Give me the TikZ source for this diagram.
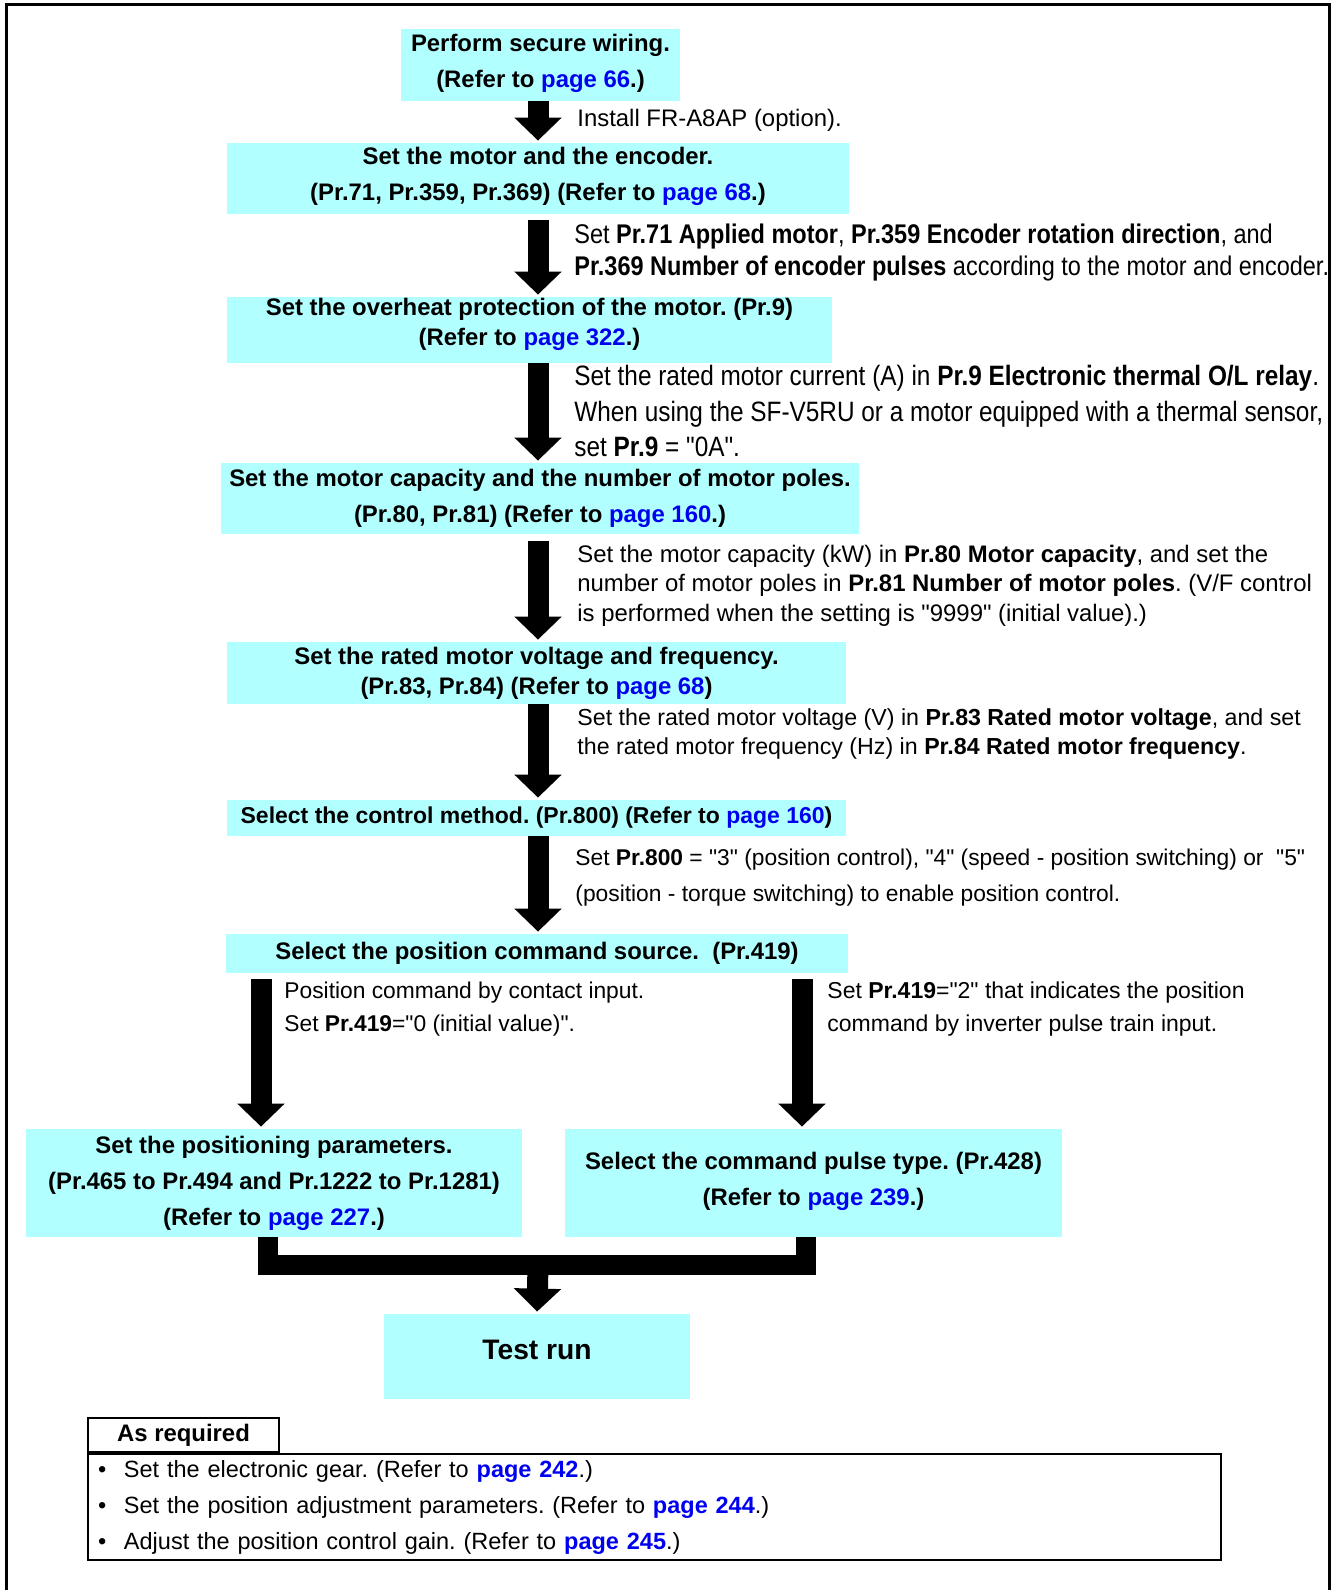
\documentclass[tikz,border=0pt]{standalone}
\usepackage{fontspec}
\setmainfont{Liberation Sans}[Ligatures=TeXOff]
\newfontfamily\narrowsans{Liberation Sans}[Ligatures=TeXOff, FakeStretch=0.87]
\usetikzlibrary{arrows.meta}
\definecolor{boxcyan}{RGB}{178,255,255}
\definecolor{linkblue}{RGB}{0,0,240}
\newcommand{\pg}[1]{\textcolor{linkblue}{#1}}
\newcommand{\lift}[1]{\rule[-#1]{0pt}{#1}}
\tikzset{
  stepbox/.style={fill=boxcyan, inner sep=0pt, align=center, font=\fontsize{11.95}{18}\selectfont\bfseries},
  note/.style={anchor=west, inner sep=0pt, align=left, font=\fontsize{11.95}{#1}\selectfont},
  note/.default=16pt,
  flowarrow/.style={line width=10.5pt, -{Triangle[length=11.5pt, width=23pt]}, shorten >=1pt},
  mergeline/.style={line width=10pt, line join=miter},
}
\begin{document}
\frenchspacing
\begin{tikzpicture}[x=0.5pt, y=-0.5pt]
    \useasboundingbox (0,0) rectangle (1336,1590);
    \draw[line width=1.5pt] (6,1590) -- (6,4) -- (1329,4) -- (1329,1590);
    % steps
    \node[stepbox, minimum width=139.5pt, minimum height=36pt] (b1) at (540.5,65) {Perform secure wiring.\\(Refer to \pg{page 66}.)\lift{4.5pt}};
    \node[stepbox, minimum width=311pt, minimum height=35.5pt] (b2) at (538,178.5) {Set the motor and the encoder.\\(Pr.71, Pr.359, Pr.369) (Refer to \pg{page 68}.)\lift{4.5pt}};
    \node[stepbox, minimum width=302.5pt, minimum height=33pt, font=\fontsize{11.95}{15}\selectfont\bfseries] (b3) at (529.5,330) {Set the overheat protection of the motor. (Pr.9)\\(Refer to \pg{page 322}.)\lift{8.5pt}};
    \node[stepbox, minimum width=319pt, minimum height=35.5pt] (b4) at (540,498.5) {Set the motor capacity and the number of motor poles.\\(Pr.80, Pr.81) (Refer to \pg{page 160}.)};
    \node[stepbox, minimum width=309.5pt, minimum height=31pt, font=\fontsize{11.95}{15}\selectfont\bfseries] (b5) at (536.5,673) {Set the rated motor voltage and frequency.\\(Pr.83, Pr.84) (Refer to \pg{page 68})};
    \node[stepbox, minimum width=309.5pt, minimum height=18pt, font=\fontsize{11.5}{14}\selectfont\bfseries] (b6) at (536.5,818) {Select the control method. (Pr.800) (Refer to \pg{page 160})};
    \node[stepbox, minimum width=311pt, minimum height=19.5pt] (b7) at (537,953.5) {Select the position command source.\ \ (Pr.419)};
    \node[stepbox, minimum width=248pt, minimum height=54pt] (b8) at (274,1183) {Set the positioning parameters.\\(Pr.465 to Pr.494 and Pr.1222 to Pr.1281)\\(Refer to \pg{page 227}.)};
    \node[stepbox, minimum width=248.5pt, minimum height=54pt] (b9) at (813.5,1183) {Select the command pulse type. (Pr.428)\\(Refer to \pg{page 239}.)\lift{4.5pt}};
    \node[stepbox, minimum width=153pt, minimum height=42.5pt, font=\fontsize{14.1}{17}\selectfont\bfseries] (test) at (537,1356.5) {Test run\lift{7pt}};
    % notes beside the arrows
    \node[note] (s1) at (577,120) {Install FR-A8AP (option).};
    \node[note, font=\narrowsans\fontsize{13.5}{16}\selectfont] (s2) at (574,253) {Set \textbf{Pr.71 Applied motor}, \textbf{Pr.359 Encoder rotation direction}, and\\\textbf{Pr.369 Number of encoder pulses} according to the motor and encoder.};
    \node[note, font=\narrowsans\fontsize{14}{17.75}\selectfont] (s3) at (574,411) {Set the rated motor current (A) in \textbf{Pr.9 Electronic thermal O/L relay}.\\When using the SF-V5RU or a motor equipped with a thermal sensor,\\set \textbf{Pr.9} = "0A".};
    \node[note=14.75pt] (s4) at (577,585.5) {Set the motor capacity (kW) in \textbf{Pr.80 Motor capacity}, and set the\\number of motor poles in \textbf{Pr.81 Number of motor poles}. (V/F control\\is performed when the setting is "9999" (initial value).)};
    \node[note, font=\fontsize{11.6}{14.5}\selectfont] (s5) at (577,733.5) {Set the rated motor voltage (V) in \textbf{Pr.83 Rated motor voltage}, and set\\the rated motor frequency (Hz) in \textbf{Pr.84 Rated motor frequency}.};
    \node[note, font=\fontsize{11.4}{18}\selectfont] (s6) at (575,878) {Set \textbf{Pr.800} = "3" (position control), "4" (speed - position switching) or\ \ "5"\\(position - torque switching) to enable position control.};
    \node[note, font=\fontsize{11.4}{16.5}\selectfont] (sl) at (284,1009) {Position command by contact input.\\Set \textbf{Pr.419}="0 (initial value)".};
    \node[note, font=\fontsize{11.5}{16.5}\selectfont] (sr) at (827,1009) {Set \textbf{Pr.419}="2" that indicates the position\\command by inverter pulse train input.};
    % arrows
    \coordinate (mx) at (538,0);
    \coordinate (lx) at (261,0);
    \coordinate (rx) at (802,0);
    \foreach \u/\v/\s in {b1/b2/0,b2/b3/3,b3/b4/0,b4/b5/3.5,b5/b6/0,b6/b7/0} { \draw[flowarrow, shorten <=\s pt] (\u.south -| mx) -- (\v.north -| mx); }
    \draw[flowarrow, shorten <=3pt] (b7.south -| lx) -- (b8.north -| lx);
    \draw[flowarrow, shorten <=3pt] (b7.south -| rx) -- (b9.north -| rx);
    \coordinate (lj) at (267.5,1264.5);
    \coordinate (rj) at (806,1264.5);
    \coordinate (bar) at (538,1264.5);
    \draw[mergeline] (b8.south -| lj) -- (lj) -- (rj) -- (b9.south -| rj);
    \draw[flowarrow] (bar) -- (test.north);
    % as required
    \node[draw, line width=1pt, anchor=north west, inner xsep=5pt, inner ysep=0pt, text width=556.5pt, minimum height=53pt, align=left, font=\fontsize{11.75}{18}\selectfont] (req) at (87,1453) {\makebox[13pt][l]{\textbullet}Set the electronic gear. (Refer to \textbf{\pg{page 242}}.)\\\makebox[13pt][l]{\textbullet}Set the position adjustment parameters. (Refer to \textbf{\pg{page 244}}.)\\\makebox[13pt][l]{\textbullet}Adjust the position control gain. (Refer to \textbf{\pg{page 245}}.)};
    \node[draw, line width=1pt, anchor=south west, minimum width=95.5pt, minimum height=17pt, inner sep=0pt, font=\fontsize{11.95}{14}\selectfont\bfseries] (tab) at (req.north west) {\raisebox{-1pt}{As required}};
  \end{tikzpicture}
\end{document}
